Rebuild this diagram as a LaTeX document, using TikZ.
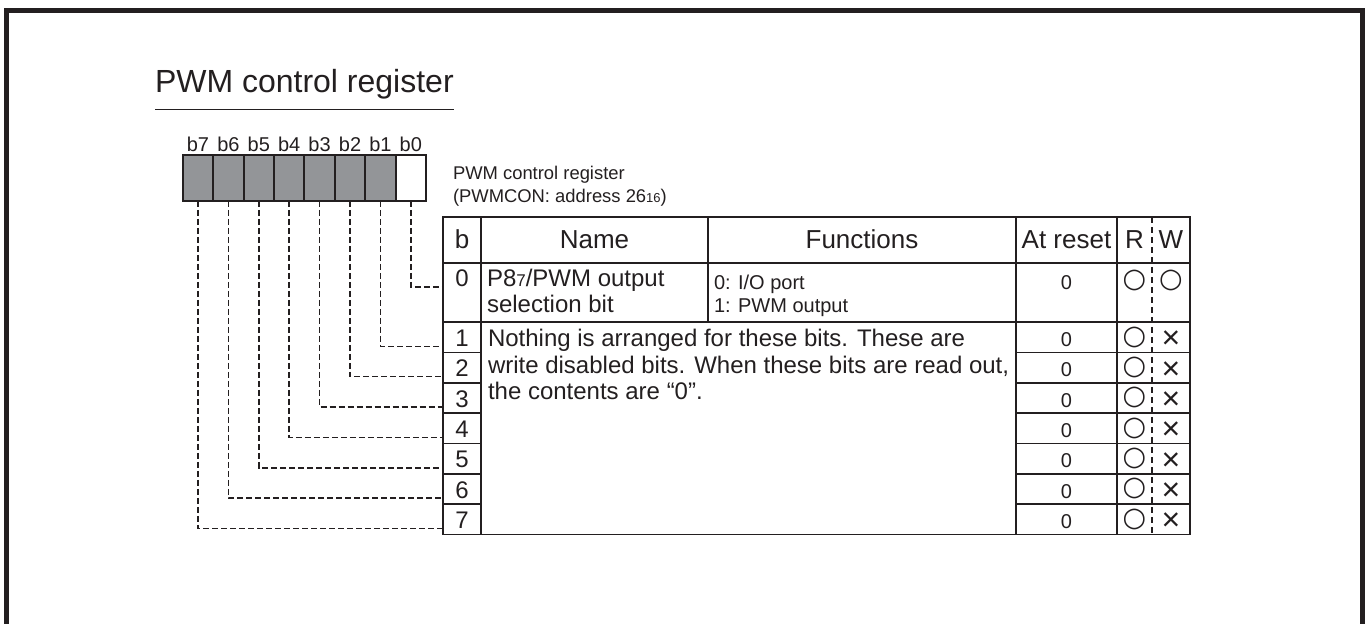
\documentclass[tikz,border=0pt]{standalone}
\usepackage{fontspec}
\setmainfont{Liberation Sans}
\newfontfamily\symfont{DejaVu Sans}
\usetikzlibrary{positioning}
\definecolor{framegray}{HTML}{231F20}
\definecolor{bitgray}{HTML}{939598}

\begin{document}
\begin{tikzpicture}[x=0.5pt, y=-0.5pt, line width=0.8pt, color=framegray,
    every node/.style={inner sep=0pt, outer sep=0pt, font=\fontsize{12}{13.3}\selectfont},
    bitbox/.style={rectangle, draw, line width=1pt, minimum width=15.2pt, minimum height=23pt},
    bitlabel/.style={anchor=base, font=\fontsize{10}{12}\selectfont},
    head/.style={anchor=base, font=\fontsize{13}{15}\selectfont},
    small/.style={font=\fontsize{10}{11.5}\selectfont},
    numcell/.style={anchor=base, minimum width=19pt},
    rmark/.style={font=\symfont\fontsize{13.5}{14}\selectfont},
    wmark/.style={font=\fontsize{16}{16}\selectfont},
    link/.style={dash pattern=on 3pt off 1.5pt, line width=0.75pt}]
    \useasboundingbox (0,0) rectangle (1367,624);
    \draw[line width=2.5pt] (6.5,624) -- (6.5,10.5) -- (1362,10.5) -- (1362,624);

    \node[anchor=base west, inner ysep=5pt, font=\fontsize{16}{19}\selectfont] (title) at (155,93) {PWM control register};
    \draw[line width=0.75pt] (title.south west) -- (title.south east);

    % register bits
    \foreach \i/\shade in {0/white,1/bitgray,2/bitgray,3/bitgray,4/bitgray,5/bitgray,6/bitgray,7/bitgray} {
        \node[bitbox, fill=\shade] (bit\i) at ({198+(7-\i)*30.4},178) {};
        \node[bitlabel] (lbl\i) at ({198+(7-\i)*30.4},152) {b\i};
    }
    \node[anchor=base west, align=left, font=\fontsize{9.2}{11.8}\selectfont] (regname) at (453,203)
        {PWM control register\\(PWMCON: address 26{\fontsize{6.5}{8}\selectfont 16})};

    % table grid
    \draw (443,217) rectangle (1190,534.5);
    \draw (443,263) -- (1190,263);
    \draw (443,322) -- (1190,322);
    \draw (481,217) -- (481,534.5);
    \draw (708,217) -- (708,322);
    \draw (1016,217) -- (1016,534.5);
    \draw (1117,217) -- (1117,534.5);
    \draw[dash pattern=on 3pt off 2pt, line width=0.6pt] (1152,217) -- (1152,534.5);

    \node[head] (hb) at (462,249) {b};
    \node[head] (hname) at (594.5,249) {Name};
    \node[head] (hfunc) at (862,249) {Functions};
    \node[head] (hreset) at (1066.5,249) {At reset};
    \node[head] (hr) at (1134.5,249) {R};
    \node[head] (hw) at (1171,249) {W};

    \node[numcell] (num0) at (462,287) {0};
    \node[anchor=base west, align=left] (name0) at (487,313)
        {P8{\fontsize{8.5}{9}\selectfont 7}/PWM output\\selection bit};
    \node[small, anchor=base west, align=left] (func0) at (714,313)
        {0: I/O port\\1: PWM output};
    \node[small, anchor=base] (reset0) at (1066.5,290) {0};
    \node[rmark] (r0) at (1134.5,280) {○};
    \node[rmark] (w0) at (1171,280) {○};

    \node[anchor=base west, align=left] (nothing) at (488,400)
        {Nothing is arranged for these bits. These are\\write disabled bits. When these bits are read out,\\the contents are “0”.};

    \foreach \k in {1,...,7} {
        \pgfmathsetmacro\yb{322+30.36*\k}
        \node[numcell] (num\k) at (462,\yb-6) {\k};
        \node[small, anchor=base] (reset\k) at (1066.5,\yb-6) {0};
        \node[rmark] (r\k) at (1134.5,\yb-15.2) {○};
        \node[wmark] (w\k) at (1171,\yb-12.5) {×};
        \ifnum\k<7
            \draw (443,\yb) -- (481,\yb);
            \draw (1016,\yb) -- (1190,\yb);
        \fi
    }

    % bit connectors
    \foreach \i in {0,...,7}
        \draw[link] (bit\i.south) |- (num\i.base west);
\end{tikzpicture}
\end{document}
